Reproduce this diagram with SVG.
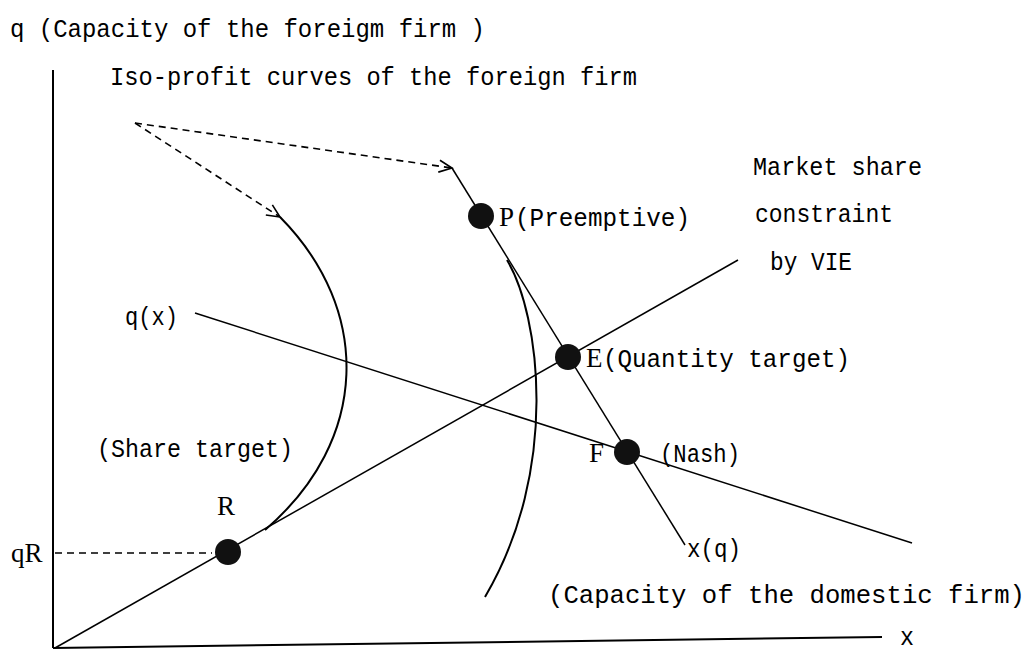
<svg xmlns="http://www.w3.org/2000/svg" width="1031" height="651" viewBox="0 0 1031 651">
<defs>
<style>
.t{font-family:"Liberation Mono","DejaVu Sans Mono",monospace;font-size:26px;fill:#000}
.s{font-family:"Liberation Serif","DejaVu Serif",serif;font-size:27px;fill:#000}
.ln{stroke:#000;stroke-width:1.5;fill:none}
.cv{stroke:#000;stroke-width:2;fill:none}
.ax{stroke:#000;stroke-width:2;fill:none}
.ds{stroke:#000;stroke-width:1.6;fill:none;stroke-dasharray:7,5}
.dot{fill:#111}
</style>
<marker id="v" markerWidth="16" markerHeight="16" refX="14" refY="8" orient="auto" markerUnits="userSpaceOnUse">
<path d="M1,2 L14,8 L1,14" fill="none" stroke="#000" stroke-width="1.6"/>
</marker>
</defs>
<rect width="1031" height="651" fill="#fff"/>
<g id="connectors">
<path id="y-axis" class="ax" d="M53,70 L53,648"/>
<path id="x-axis" class="ax" d="M53,648 L882,637"/>
<path id="share-ray" class="ln" d="M55,648 L738,260"/>
<path id="qx-line" class="ln" d="M195,313 L912,543"/>
<path id="xq-line" class="ln" d="M452,168 L685,545"/>
<path id="iso1" class="cv" d="M280,217 C372,310 370,440 265,530"/>
<path id="iso2" class="cv" d="M507,260 C540,315 560,470 485,597"/>
<path id="arrow1" class="ds" d="M135,123 L452,168" marker-end="url(#v)"/>
<path id="arrow2" class="ds" d="M135,123 L280,217" marker-end="url(#v)"/>
<path id="qR-dash" class="ds" d="M55,553 L212,553"/>
</g>
<g id="title-q"><text class="t" x="10" y="37" textLength="475" lengthAdjust="spacingAndGlyphs">q (Capacity of the foreigm firm )</text></g>
<g id="label-iso"><text class="t" x="110" y="85" textLength="527" lengthAdjust="spacingAndGlyphs">Iso-profit curves of the foreign firm</text></g>
<g id="label-constraint">
<text class="t" x="753" y="175" textLength="169" lengthAdjust="spacingAndGlyphs">Market share</text>
<text class="t" x="755" y="222" textLength="138" lengthAdjust="spacingAndGlyphs">constraint</text>
<text class="t" x="770" y="270" textLength="82" lengthAdjust="spacingAndGlyphs">by VIE</text>
</g>
<g id="node-P">
<circle class="dot" cx="481" cy="216" r="13"/>
<text class="s" x="499" y="226">P</text>
<text class="t" x="515" y="226" textLength="175" lengthAdjust="spacingAndGlyphs">(Preemptive)</text>
</g>
<g id="node-E">
<circle class="dot" cx="568" cy="357" r="13"/>
<text class="s" x="586" y="367">E</text>
<text class="t" x="603" y="367" textLength="247" lengthAdjust="spacingAndGlyphs">(Quantity target)</text>
</g>
<g id="node-F">
<circle class="dot" cx="627" cy="452" r="13"/>
<text class="s" x="589" y="462">F</text>
<text class="t" x="660" y="462" textLength="80" lengthAdjust="spacingAndGlyphs">(Nash)</text>
</g>
<g id="node-R">
<circle class="dot" cx="228" cy="552" r="13"/>
<text class="s" x="217" y="515">R</text>
</g>
<g id="label-qx"><text class="t" x="125" y="325" textLength="53" lengthAdjust="spacingAndGlyphs">q(x)</text></g>
<g id="label-share"><text class="t" x="97" y="457" textLength="196" lengthAdjust="spacingAndGlyphs">(Share target)</text></g>
<g id="label-xq"><text class="t" x="687" y="557" textLength="54" lengthAdjust="spacingAndGlyphs">x(q)</text></g>
<g id="label-domestic"><text class="t" x="548" y="603" textLength="477" lengthAdjust="spacingAndGlyphs">(Capacity of the domestic  firm)</text></g>
<g id="label-x"><text class="t" x="900" y="645" textLength="14" lengthAdjust="spacingAndGlyphs">x</text></g>
<g id="label-qR"><text class="s" x="11" y="562">qR</text></g>
</svg>
